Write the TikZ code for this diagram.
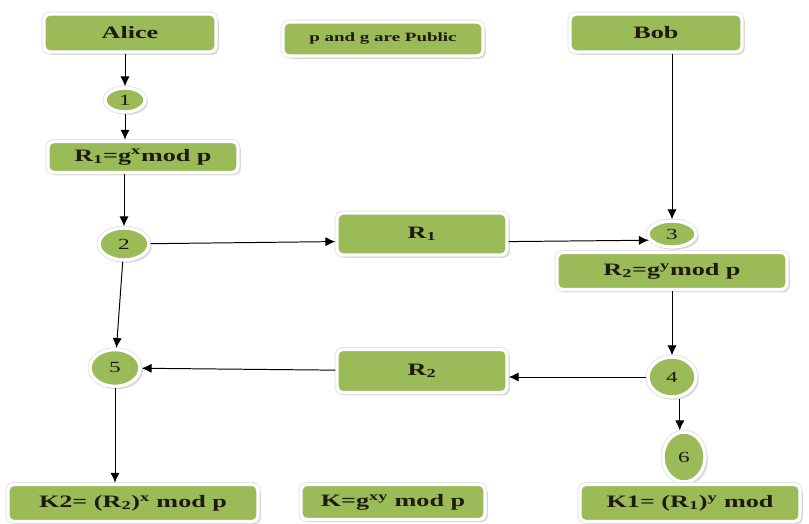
\documentclass[tikz,border=0pt]{standalone}
\usepackage{fontspec}
\newfontfamily\diagfont[FakeStretch=1.5]{Liberation Serif}
\usetikzlibrary{shapes.geometric,shadows,arrows.meta}

\definecolor{leafgreen}{HTML}{9BBB59}
\definecolor{inkdark}{HTML}{1E1A10}

\tikzset{
    greenbox/.style={rectangle, draw=white, line width=2.4pt, fill=leafgreen, rounded corners=4pt,
        preaction={draw=black!14, line width=3.4pt},
        drop shadow={shadow xshift=2pt, shadow yshift=-2pt, fill=black!25},
        text=inkdark, inner sep=0pt, font=\diagfont\fontsize{12.4}{14}\selectfont\bfseries},
    stepdot/.style={ellipse, draw=white, line width=2.4pt, fill=leafgreen,
        preaction={draw=black!14, line width=3.4pt},
        drop shadow={shadow xshift=2pt, shadow yshift=-2pt, fill=black!25},
        text=inkdark, inner sep=0pt, font=\diagfont\fontsize{11}{13}\selectfont},
    link/.style={->, line width=0.7pt, black}
}

\begin{document}
\begin{tikzpicture}[x=0.025cm, y=-0.025cm, >={Latex[length=7pt,width=6.5pt]}]
    \useasboundingbox (0,0) rectangle (809,524);

        % Define nodes in the top row
        \node[greenbox, minimum width=4.3cm, minimum height=0.95cm] (alice) at (130,33) {Alice};
        \node[greenbox, minimum width=5.0cm, minimum height=0.85cm,
              font=\diagfont\fontsize{9}{11}\selectfont\bfseries] (public) at (383,39) {p and g are Public};
        \node[greenbox, minimum width=4.3cm, minimum height=0.95cm] (bob) at (656,33) {Bob};

        % Define nodes on Alice's side (left)
        \node[stepdot, minimum width=1.0cm, minimum height=0.6cm] (c1) at (125,100) {1};
        \node[greenbox, minimum width=4.75cm, minimum height=0.78cm] (r1eq) at (143,157) {R\textsubscript{1}=g\textsuperscript{x}mod p};
        \node[stepdot, minimum width=1.25cm, minimum height=0.8cm] (c2) at (124,244) {2};
        \node[stepdot, minimum width=1.25cm, minimum height=0.92cm] (c5) at (115,368) {5};
        \node[greenbox, minimum width=6.25cm, minimum height=0.93cm] (k2) at (133,503) {K2= (R\textsubscript{2})\textsuperscript{x} mod p};

        % Define nodes in the middle
        \node[greenbox, minimum width=4.25cm, minimum height=1.05cm] (r1mid) at (422,234) {R\textsubscript{1}};
        \node[greenbox, minimum width=4.25cm, minimum height=1.08cm] (r2mid) at (422,371) {R\textsubscript{2}};
        \node[greenbox, minimum width=4.6cm, minimum height=0.88cm] (kall) at (393,502) {K=g\textsuperscript{xy} mod p};

        % Define nodes on Bob's side (right)
        \node[stepdot, minimum width=1.2cm, minimum height=0.65cm] (c3) at (672,234) {3};
        \node[greenbox, minimum width=5.75cm, minimum height=0.93cm] (r2eq) at (672,271) {R\textsubscript{2}=g\textsuperscript{y}mod p};
        \node[stepdot, minimum width=1.2cm, minimum height=1.0cm] (c4) at (672,377) {4};
        \node[stepdot, minimum width=1.05cm, minimum height=1.25cm] (c6) at (684,457) {6};
        \node[greenbox, minimum width=5.5cm, minimum height=0.93cm] (k1) at (690,503) {K1= (R\textsubscript{1})\textsuperscript{y} mod};

        % Draw arrows on Alice's side
        \draw[link] (alice.south -| c1) -- (c1);
        \draw[link] (c1) -- (c1 |- r1eq.north);
        \draw[link] (r1eq.south -| c2) -- (c2);
        \draw[link] (c2) -- (c5);
        \draw[link] (c5) -- (c5 |- k2.north);

        % Draw arrows between the two sides
        \draw[link] (c2) -- (r1mid.185);
        \draw[link] (r1mid.355) -- (c3.195);
        \draw[link] (c4) -- (c4 -| r2mid.east);
        \draw[link] (r2mid) -- (c5);

        % Draw arrows on Bob's side
        \draw[link] (bob.south -| c3) -- (c3);
        \draw[link] (r2eq) -- (c4);
        \draw[link] ([xshift=-3pt]c6 |- c4.south) -- ([xshift=-3pt]c6.north);

    \end{tikzpicture}
\end{document}
